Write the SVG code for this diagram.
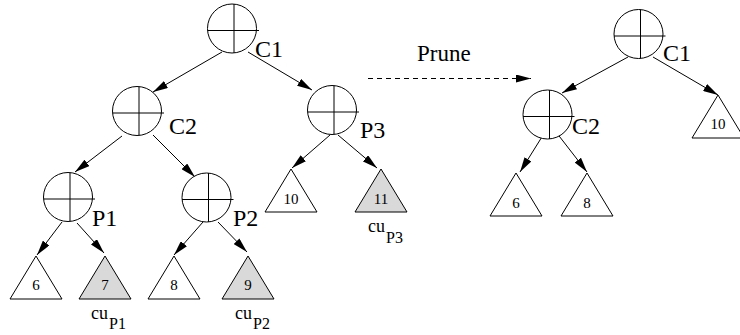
<svg xmlns="http://www.w3.org/2000/svg" xmlns:xlink="http://www.w3.org/1999/xlink" width="740" height="335" viewBox="0 0 740 335" font-family="'Liberation Serif', 'Times New Roman', serif">
<style>
.c{fill:#fff;stroke:#000;stroke-width:1}
.x{stroke:#000;stroke-width:1}
.t{fill:#fff;stroke:#000;stroke-width:1}
.g{fill:#d9d9d9;stroke:#000;stroke-width:1}
text{font-family:'Liberation Serif','Times New Roman',serif;fill:#000}
.lbl{font-size:24px}
.num{font-size:15px;text-anchor:middle}
.cu{font-size:18px}
.sub{font-size:16px}
.e{stroke:#000;stroke-width:1;fill:none;marker-end:url(#ah)}
</style>
<defs>
<marker id="ah" viewBox="0 0 15 8" refX="15" refY="4" markerWidth="15" markerHeight="8" markerUnits="userSpaceOnUse" orient="auto">
<path d="M0,0 L15,4 L0,8 z" fill="#000"/>
</marker>
<g id="op">
<circle class="c" cx="0" cy="0" r="24.5"/>
<line class="x" x1="2" y1="-24.4" x2="2" y2="24.4"/>
<line class="x" x1="-24.4" y1="2" x2="27" y2="2"/>
</g>
<path id="tri" d="M0,0 L26,43 L-26,43 z"/>
</defs>

<g id="connectors">
<line class="e" x1="222" y1="52" x2="153" y2="92"/>
<line class="e" x1="248" y1="52" x2="312" y2="90"/>
<line class="e" x1="122" y1="136" x2="75" y2="172"/>
<line class="e" x1="153" y1="135" x2="195" y2="177"/>
<line class="e" x1="62" y1="222" x2="37" y2="255"/>
<line class="e" x1="77" y1="223" x2="104" y2="253"/>
<line class="e" x1="203" y1="222" x2="174" y2="255"/>
<line class="e" x1="218" y1="222" x2="247" y2="252"/>
<line class="e" x1="330" y1="135" x2="292" y2="168"/>
<line class="e" x1="338" y1="135" x2="377" y2="168"/>
<line class="e" x1="628" y1="57" x2="562" y2="93"/>
<line class="e" x1="653" y1="57" x2="718" y2="95"/>
<line class="e" x1="545" y1="132" x2="520" y2="172"/>
<line class="e" x1="556" y1="132" x2="587" y2="172"/>
<line class="e" x1="368" y1="78.5" x2="531" y2="78.5" stroke-dasharray="5,4"/>
<text class="lbl" x="417" y="61" style="font-size:23px">Prune</text>
</g>

<g id="C1" transform="translate(232,28.5)"><use xlink:href="#op"/><text class="lbl" x="23" y="28.5">C1</text></g>
<g id="C2" transform="translate(137,111)"><use xlink:href="#op"/><text class="lbl" x="32" y="23">C2</text></g>
<g id="P3" transform="translate(332,110)"><use xlink:href="#op"/><text class="lbl" x="28" y="28">P3</text></g>
<g id="P1" transform="translate(68,197)"><use xlink:href="#op"/><text class="lbl" x="24" y="29">P1</text></g>
<g id="P2" transform="translate(206.5,197.5)"><use xlink:href="#op"/><text class="lbl" x="26.5" y="28.5">P2</text></g>

<g id="T6" transform="translate(36,256)"><use xlink:href="#tri" class="t"/><text class="num" x="0" y="34">6</text></g>
<g id="T7" transform="translate(105,256)"><use xlink:href="#tri" class="g"/><text class="num" x="0" y="34">7</text><text class="cu" x="-14" y="63">cu</text><text class="sub" x="4" y="73">P1</text></g>
<g id="T8" transform="translate(174,256)"><use xlink:href="#tri" class="t"/><text class="num" x="0" y="34">8</text></g>
<g id="T9" transform="translate(248,256)"><use xlink:href="#tri" class="g"/><text class="num" x="0" y="34">9</text><text class="cu" x="-13" y="63">cu</text><text class="sub" x="5" y="73">P2</text></g>
<g id="T10" transform="translate(291,169)"><use xlink:href="#tri" class="t"/><text class="num" x="0" y="35">10</text></g>
<g id="T11" transform="translate(381,169)"><use xlink:href="#tri" class="g"/><text class="num" x="0" y="35">11</text><text class="cu" x="-13" y="63">cu</text><text class="sub" x="5" y="74">P3</text></g>

<g id="RC1" transform="translate(638.5,34)"><use xlink:href="#op"/><text class="lbl" x="24.5" y="27">C1</text></g>
<g id="RC2" transform="translate(547.5,114.5)"><use xlink:href="#op"/><text class="lbl" x="24.5" y="19.5">C2</text></g>
<g id="RT6" transform="translate(516,173)"><use xlink:href="#tri" class="t"/><text class="num" x="0" y="35">6</text></g>
<g id="RT8" transform="translate(587,173)"><use xlink:href="#tri" class="t"/><text class="num" x="0" y="35">8</text></g>
<g id="RT10" transform="translate(718,95)"><use xlink:href="#tri" class="t"/><text class="num" x="0" y="34">10</text></g>
</svg>
